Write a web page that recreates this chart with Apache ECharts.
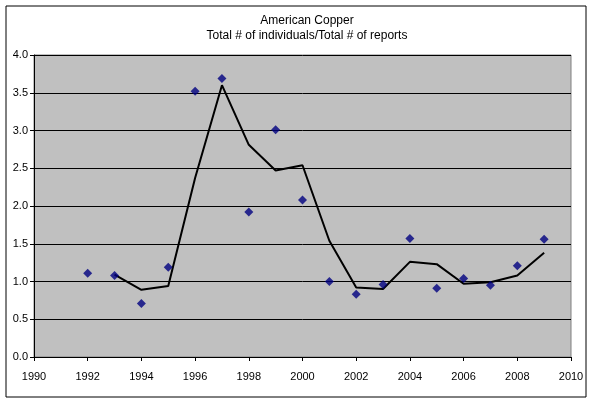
<!DOCTYPE html>
<html>
<head>
<meta charset="utf-8">
<script src="https://cdn.jsdelivr.net/npm/echarts@6/dist/echarts.min.js"></script>
<style>
  html, body { margin: 0; padding: 0; background: #fff; }
  #main { width: 593px; height: 404px; }
</style>
</head>
<body>
<div id="main"></div>
<script>
// years and ratios
var years = [1992, 1993, 1994, 1995, 1996, 1997, 1998, 1999, 2000,
             2001, 2002, 2003, 2004, 2005, 2006, 2007, 2008, 2009];
var ratios = [1.11, 1.08, 0.71, 1.19, 3.52, 3.69, 1.92, 3.01, 2.08,
              1.00, 0.83, 0.96, 1.57, 0.91, 1.04, 0.95, 1.21, 1.56];

// trend line (starts 1993)
var trendYears = [1993, 1994, 1995, 1996, 1997, 1998, 1999, 2000, 2001,
                  2002, 2003, 2004, 2005, 2006, 2007, 2008, 2009];
var trendValues = [1.09, 0.89, 0.94, 2.37, 3.60, 2.81, 2.47, 2.54, 1.54,
                   0.92, 0.90, 1.26, 1.23, 0.97, 0.99, 1.08, 1.38];

var titleLines = ['American Copper', 'Total # of individuals/Total # of reports'];

function pairs(xs, ys) {
    var out = [];
    for (var i = 0; i < xs.length; i++) out.push([xs[i], ys[i]]);
    return out;
}

var myChart = echarts.init(document.getElementById('main'), null, { renderer: 'canvas' });

var option = {
    animation: false,
    textStyle: { fontFamily: 'Liberation Sans, Arial, sans-serif' },
    title: {
        text: titleLines.join('\n'),
        left: 302,
        textAlign: 'center',
        top: 8,
        textStyle: { fontSize: 12, fontWeight: 'normal', color: '#000', lineHeight: 15 }
    },
    graphic: [{
        type: 'rect',
        shape: { x: 6, y: 6, width: 580, height: 391 },
        style: { fill: 'none', stroke: '#000', lineWidth: 1 },
        silent: true
    }],
    grid: { left: 34, top: 55, right: 22, bottom: 47, show: true, backgroundColor: '#c0c0c0', borderColor: '#808080', borderWidth: 1 },
    xAxis: {
        type: 'value',
        min: 1990, max: 2010, interval: 2,
        axisLine: { show: true, lineStyle: { color: '#000' } },
        axisTick: { show: true, length: 4, lineStyle: { color: '#000' } },
        axisLabel: { color: '#000', fontSize: 11, margin: 14, formatter: function (v) { return String(v); } },
        splitLine: { show: false }
    },
    yAxis: {
        type: 'value',
        min: 0, max: 4, interval: 0.5,
        axisLine: { show: true, lineStyle: { color: '#000' } },
        axisTick: { show: true, length: 4, lineStyle: { color: '#000' } },
        axisLabel: { color: '#000', fontSize: 11, margin: 6, formatter: function (v) { return v.toFixed(1); } },
        splitLine: { show: true, lineStyle: { color: '#000', width: 1 } }
    },
    series: [
        {
            name: 'trend',
            type: 'line',
            data: pairs(trendYears, trendValues),
            symbol: 'none',
            lineStyle: { color: '#000', width: 2 },
            z: 2
        },
        {
            name: 'ratio',
            type: 'scatter',
            data: pairs(years, ratios),
            symbol: 'diamond',
            symbolSize: 9,
            itemStyle: { color: '#000080' },
            z: 3
        }
    ]
};

myChart.setOption(option);
window.addEventListener('resize', myChart.resize);
</script>
</body>
</html>
